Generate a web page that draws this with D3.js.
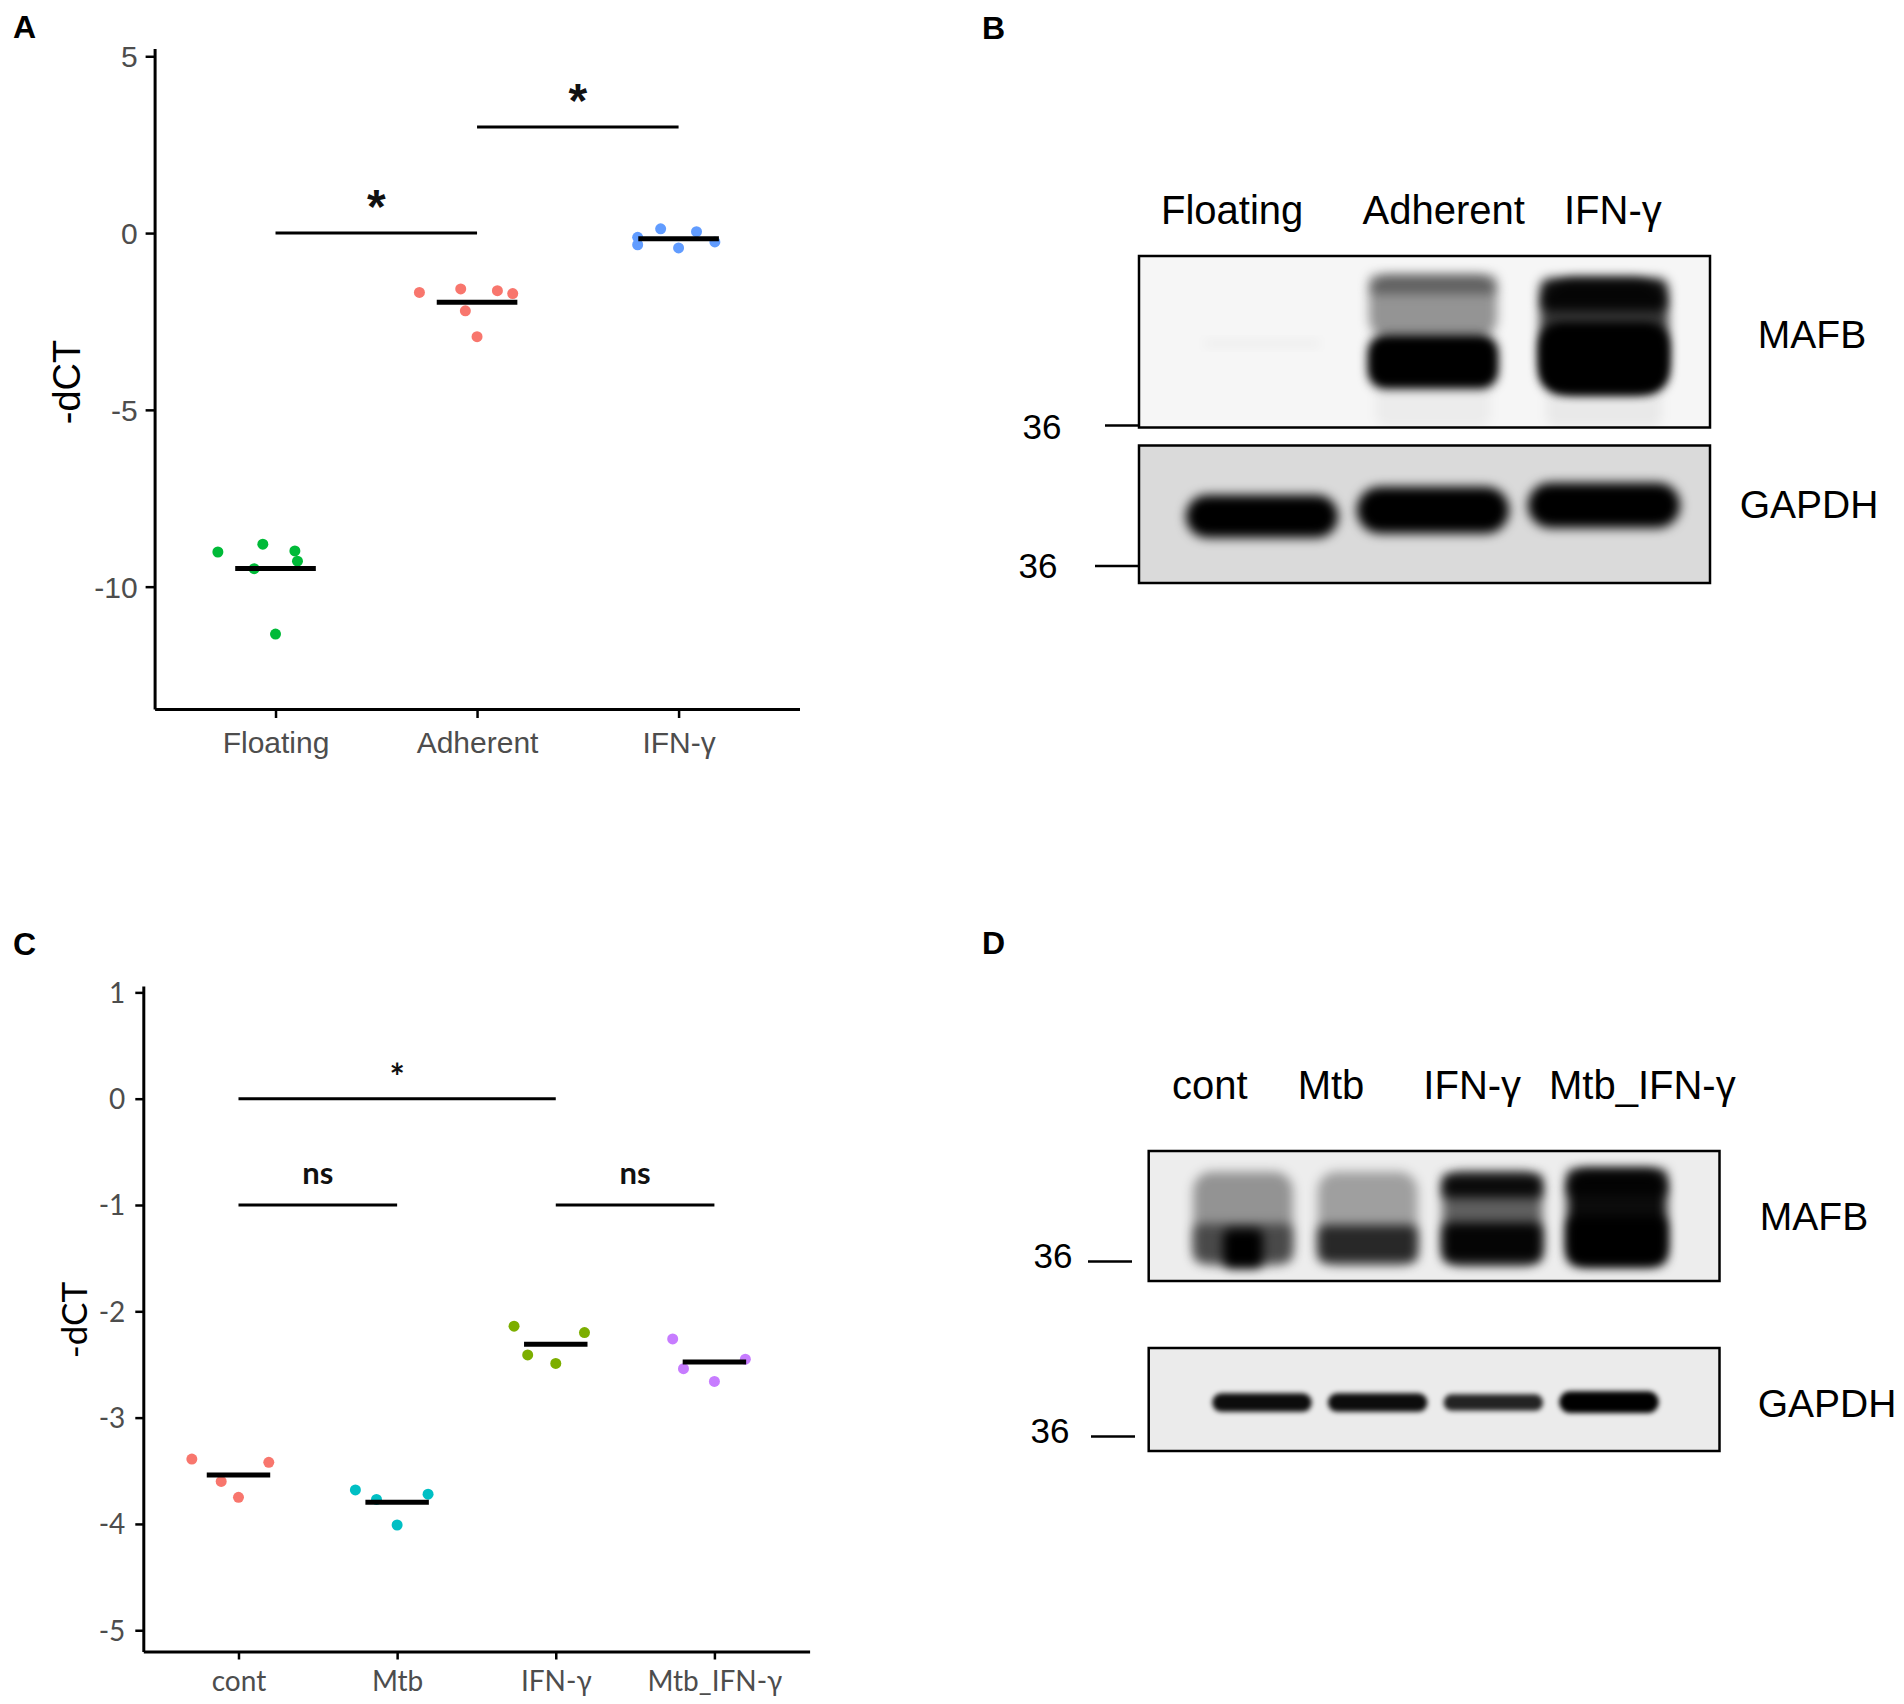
<!DOCTYPE html>
<html>
<head>
<meta charset="utf-8">
<script src="https://cdn.jsdelivr.net/npm/d3@7"></script>
<style>
  body { margin: 0; background: #fff; }
  svg { display: block; }
</style>
</head>
<body>
<div id="fig"></div>
<script>
// Panel A data
var catsA = ["Floating", "Adherent", "IFN-γ"];
var floatingA = [-9.02, -8.80, -8.99, -9.28, -9.49, -11.34];
var adherentA = [-1.68, -1.58, -1.63, -1.71, -2.20, -2.93];
var ifngA = [-0.12, -0.33, 0.12, -0.42, 0.04, -0.25];
var jitterA = [
    [-0.286, -0.063, 0.096, 0.109, -0.106, 0],
    [-0.286, -0.081, 0.101, 0.177, -0.058, 0],
    [-0.203, -0.203, -0.089, 0, 0.089, 0.18]
];
var colorsA = ["#00BA38", "#F8766D", "#619CFF"];
var ticksA = [5, 0, -5, -10];
var sigA = [
    {from: "Floating", to: "Adherent", y: 0, label: "*"},
    {from: "Adherent", to: "IFN-γ", y: 3, label: "*"}
];

// Panel C data
var catsC = ["cont", "Mtb", "IFN-γ", "Mtb_IFN-γ"];
var contC = [-3.39, -3.60, -3.75, -3.42];
var mtbC = [-3.68, -3.77, -3.72, -4.01];
var ifngC = [-2.14, -2.41, -2.49, -2.20];
var mtbIfngC = [-2.26, -2.54, -2.66, -2.45];
var jitterC = [
    [-0.294, -0.109, 0, 0.191],
    [-0.263, -0.130, 0.195, 0],
    [-0.263, -0.177, 0, 0.181],
    [-0.263, -0.195, 0, 0.195]
];
var colorsC = ["#F8766D", "#00BFC4", "#7CAE00", "#C77CFF"];
var ticksC = [1, 0, -1, -2, -3, -4, -5];
var sigC = [
    {from: "cont", to: "IFN-γ", y: 0, label: "*"},
    {from: "cont", to: "Mtb", y: -1, label: "ns"},
    {from: "IFN-γ", to: "Mtb_IFN-γ", y: -1, label: "ns"}
];

// Blot B: band top/bottom as relative migration in the strip, level = darkness
var lanesB = ["Floating", "Adherent", "IFN-γ"];
var mafbB = [
    {lane: "Floating", top: 0.49, bottom: 0.53, level: 0.04, span: 0.9},
    {lane: "Adherent", top: 0.11, bottom: 0.48, level: 0.40, span: 1},
    {lane: "Adherent", top: 0.11, bottom: 0.22, level: 0.35, span: 1},
    {lane: "Adherent", top: 0.46, bottom: 0.77, level: 1, span: 1},
    {lane: "Adherent", top: 0.50, bottom: 0.74, level: 1, span: 0.95},
    {lane: "IFN-γ", top: 0.13, bottom: 0.80, level: 0.78, span: 1},
    {lane: "IFN-γ", top: 0.13, bottom: 0.32, level: 0.9, span: 1},
    {lane: "IFN-γ", top: 0.39, bottom: 0.80, level: 1, span: 1},
    {lane: "IFN-γ", top: 0.42, bottom: 0.78, level: 1, span: 0.95},
    {lane: "Adherent", top: 0.75, bottom: 1.0, level: 0.04, span: 0.9},
    {lane: "IFN-γ", top: 0.78, bottom: 1.0, level: 0.05, span: 0.9}
];
var gapdhB = [
    {lane: "Floating", top: 0.36, bottom: 0.67, level: 1, span: 1},
    {lane: "Adherent", top: 0.30, bottom: 0.64, level: 1, span: 1},
    {lane: "IFN-γ", top: 0.27, bottom: 0.60, level: 1, span: 1}
];

// Blot D
var lanesD = ["cont", "Mtb", "IFN-γ", "Mtb_IFN-γ"];
var mafbD = [
    {lane: "cont", top: 0.16, bottom: 0.88, level: 0.38, span: 1},
    {lane: "cont", top: 0.56, bottom: 0.86, level: 0.5, span: 1},
    {lane: "cont", top: 0.60, bottom: 0.90, level: 1, span: 0.4},
    {lane: "Mtb", top: 0.16, bottom: 0.88, level: 0.33, span: 1},
    {lane: "Mtb", top: 0.57, bottom: 0.86, level: 0.75, span: 1},
    {lane: "IFN-γ", top: 0.16, bottom: 0.88, level: 0.6, span: 1},
    {lane: "IFN-γ", top: 0.18, bottom: 0.36, level: 0.9, span: 1},
    {lane: "IFN-γ", top: 0.55, bottom: 0.86, level: 0.95, span: 1},
    {lane: "Mtb_IFN-γ", top: 0.14, bottom: 0.88, level: 0.95, span: 1},
    {lane: "Mtb_IFN-γ", top: 0.50, bottom: 0.88, level: 1, span: 1},
    {lane: "Mtb_IFN-γ", top: 0.14, bottom: 0.34, level: 0.8, span: 1}
];
var gapdhD = [
    {lane: "cont", top: 0.44, bottom: 0.62, level: 0.95, span: 1},
    {lane: "Mtb", top: 0.44, bottom: 0.62, level: 0.95, span: 1},
    {lane: "IFN-γ", top: 0.45, bottom: 0.61, level: 0.85, span: 1},
    {lane: "Mtb_IFN-γ", top: 0.42, bottom: 0.63, level: 1, span: 1}
];

var svg = d3.select("#fig").append("svg")
    .attr("width", 1904)
    .attr("height", 1704);

var defs = svg.append("defs");
[["blur5", 5.5], ["blur4", 4], ["blur2", 2.6]].forEach(function(f) {
    defs.append("filter")
        .attr("id", f[0])
        .attr("x", "-30%").attr("y", "-60%")
        .attr("width", "160%").attr("height", "220%")
        .append("feGaussianBlur")
        .attr("stdDeviation", f[1]);
});

// panel letters
var letters = [["A", 13, 38], ["B", 982, 39], ["C", 13, 955], ["D", 982, 954]];
svg.selectAll("text.letter")
    .data(letters)
    .enter()
    .append("text")
    .attr("class", "letter")
    .attr("x", function(d) { return d[1]; })
    .attr("y", function(d) { return d[2]; })
    .attr("font-family", "Liberation Sans, Arial, sans-serif")
    .attr("font-weight", "bold")
    .attr("font-size", 32)
    .text(function(d) { return d[0]; });

// dot plot with mean bars
function dotPanel(opt) {
    var g = svg.append("g");
    var x = d3.scalePoint().domain(opt.cats).range(opt.xRange).padding(0.6);
    var y = d3.scaleLinear().domain(opt.yDomain).range(opt.yRange);
    var step = x.step();

    var yAxis = g.append("g")
        .attr("transform", "translate(" + opt.xRange[0] + ",0)")
        .call(d3.axisLeft(y).tickValues(opt.ticks).tickSize(opt.tickLen).tickSizeOuter(0));
    var xAxis = g.append("g")
        .attr("transform", "translate(0," + opt.yRange[0] + ")")
        .call(d3.axisBottom(x).tickSize(opt.tickLen).tickSizeOuter(0));

    [yAxis, xAxis].forEach(function(a) {
        a.select(".domain").attr("stroke", "#000").attr("stroke-width", 3);
        a.selectAll(".tick line").attr("stroke", "#000").attr("stroke-width", 2.5);
        a.selectAll(".tick text")
            .attr("font-family", opt.font)
            .attr("font-size", opt.tickFont)
            .attr("fill", "#4d4d4d");
    });
    // plain hyphen for negatives, as in the original
    yAxis.selectAll(".tick text")
        .attr("x", -opt.yLabGap).attr("dy", "0.35em")
        .text(function(d) { return String(d); });
    xAxis.selectAll(".tick text").attr("y", opt.xLabGap).attr("dy", 0);

    g.append("text")
        .attr("transform", "translate(" + opt.titleX + "," + opt.titleY + ") rotate(-90)")
        .attr("text-anchor", "middle")
        .attr("dominant-baseline", "central")
        .attr("font-family", opt.font)
        .attr("font-size", opt.titleFont)
        .attr("fill", "#000")
        .text("-dCT");

    opt.series.forEach(function(vals, i) {
        var cat = opt.cats[i];
        g.selectAll(null)
            .data(vals)
            .enter()
            .append("circle")
            .attr("cx", function(d, j) { return x(cat) + opt.jitter[i][j] * step; })
            .attr("cy", function(d) { return y(d); })
            .attr("r", 5.5)
            .attr("fill", opt.colors[i]);
        var m = d3.mean(vals);
        g.append("line")
            .attr("x1", x(cat) - 0.2 * step)
            .attr("x2", x(cat) + 0.2 * step)
            .attr("y1", y(m))
            .attr("y2", y(m))
            .attr("stroke", "#000")
            .attr("stroke-width", 5);
    });

    var sig = g.selectAll("g.sig")
        .data(opt.sig)
        .enter()
        .append("g")
        .attr("class", "sig");
    sig.append("line")
        .attr("x1", function(d) { return x(d.from); })
        .attr("x2", function(d) { return x(d.to); })
        .attr("y1", function(d) { return y(d.y); })
        .attr("y2", function(d) { return y(d.y); })
        .attr("stroke", "#000")
        .attr("stroke-width", 3);
    sig.append("text")
        .attr("x", function(d) { return (x(d.from) + x(d.to)) / 2; })
        .attr("y", function(d) { return y(d.y) - (d.label === "*" ? opt.starGap : opt.nsGap); })
        .attr("text-anchor", "middle")
        .attr("font-family", opt.font)
        .attr("font-weight", opt.sigWeight)
        .attr("font-size", function(d) { return d.label === "*" ? opt.starFont : opt.nsFont; })
        .attr("fill", "#111")
        .text(function(d) { return d.label; });
}

dotPanel({
    cats: catsA,
    series: [floatingA, adherentA, ifngA],
    jitter: jitterA,
    colors: colorsA,
    ticks: ticksA,
    sig: sigA,
    xRange: [154.6, 799.5],
    yDomain: [-13.46, 5.22],
    yRange: [709, 48.5],
    tickLen: 9,
    font: "Liberation Sans, Arial, sans-serif",
    tickFont: 30,
    yLabGap: 17,
    xLabGap: 44,
    titleX: 67, titleY: 382, titleFont: 38,
    starGap: 10, starFont: 48, nsGap: 20, nsFont: 30,
    sigWeight: "bold"
});

dotPanel({
    cats: catsC,
    series: [contC, mtbC, ifngC, mtbIfngC],
    jitter: jitterC,
    colors: colorsC,
    ticks: ticksC,
    sig: sigC,
    xRange: [143.3, 809.6],
    yDomain: [-5.2, 1.06],
    yRange: [1651.5, 986],
    tickLen: 8,
    font: "Lato, Carlito, sans-serif",
    tickFont: 28,
    yLabGap: 18,
    xLabGap: 39,
    titleX: 73, titleY: 1320, titleFont: 35,
    starGap: 9, starFont: 36, nsGap: 21, nsFont: 31,
    sigWeight: "bold"
});

// western blot strips
function blotStrip(opt) {
    var g = svg.append("g");
    var clipId = "clip" + opt.id;
    defs.append("clipPath").attr("id", clipId)
        .append("rect")
        .attr("x", opt.x0).attr("y", opt.y0)
        .attr("width", opt.x1 - opt.x0).attr("height", opt.y1 - opt.y0);

    var lane = d3.scalePoint().domain(opt.lanes).range(opt.laneRange);
    var mig = d3.scaleLinear().domain([0, 1]).range([opt.y0, opt.y1]);
    var bw = lane.step() * opt.widthFrac;

    g.append("rect")
        .attr("x", opt.x0).attr("y", opt.y0)
        .attr("width", opt.x1 - opt.x0).attr("height", opt.y1 - opt.y0)
        .attr("fill", opt.bg);

    var inner = g.append("g").attr("clip-path", "url(#" + clipId + ")");
    inner.selectAll("rect.band")
        .data(opt.bands)
        .enter()
        .append("rect")
        .attr("class", "band")
        .attr("x", function(d) { return lane(d.lane) - bw * d.span / 2; })
        .attr("width", function(d) { return bw * d.span; })
        .attr("y", function(d) { return mig(d.top); })
        .attr("height", function(d) { return mig(d.bottom) - mig(d.top); })
        .attr("rx", function(d) { return Math.min(bw * d.span, mig(d.bottom) - mig(d.top)) * opt.round; })
        .attr("fill", "#000")
        .attr("fill-opacity", function(d) { return d.level; })
        .attr("filter", "url(#" + opt.blur + ")");

    g.append("rect")
        .attr("x", opt.x0).attr("y", opt.y0)
        .attr("width", opt.x1 - opt.x0).attr("height", opt.y1 - opt.y0)
        .attr("fill", "none")
        .attr("stroke", "#000")
        .attr("stroke-width", 2.5);

    // protein name
    g.append("text")
        .attr("x", opt.nameX).attr("y", opt.nameY)
        .attr("text-anchor", "middle")
        .attr("font-family", "Liberation Sans, Arial, sans-serif")
        .attr("font-size", 39)
        .text(opt.name);

    // size marker
    g.append("line")
        .attr("x1", opt.markX[0]).attr("x2", opt.markX[1])
        .attr("y1", opt.markY).attr("y2", opt.markY)
        .attr("stroke", "#000").attr("stroke-width", 2.5);
    g.append("text")
        .attr("x", opt.markTextX).attr("y", opt.markTextY)
        .attr("text-anchor", "middle")
        .attr("font-family", "Liberation Sans, Arial, sans-serif")
        .attr("font-size", 35)
        .text("36");
}

function laneLabels(lanes, range, y) {
    var s = d3.scalePoint().domain(lanes).range(range);
    svg.append("g").selectAll("text")
        .data(lanes)
        .enter()
        .append("text")
        .attr("x", function(d) { return s(d); })
        .attr("y", y)
        .attr("text-anchor", "start")
        .attr("font-family", "Liberation Sans, Arial, sans-serif")
        .attr("font-size", 40)
        .text(function(d) { return d; });
}

// B
laneLabels(lanesB, [1161, 1564], 224);
blotStrip({
    id: "bm", lanes: lanesB, bands: mafbB, laneRange: [1262, 1604], widthFrac: 0.75,
    x0: 1139, x1: 1710, y0: 256, y1: 427.5, bg: "#f6f6f6", blur: "blur5", round: 0.3,
    name: "MAFB", nameX: 1812, nameY: 348,
    markX: [1105, 1139], markY: 425.5, markTextX: 1042, markTextY: 439
});
blotStrip({
    id: "bg", lanes: lanesB, bands: gapdhB, laneRange: [1262, 1604], widthFrac: 0.89,
    x0: 1139, x1: 1710, y0: 445.5, y1: 583, bg: "#dadada", blur: "blur5", round: 0.5,
    name: "GAPDH", nameX: 1809, nameY: 518,
    markX: [1095, 1139], markY: 566, markTextX: 1038, markTextY: 578
});

// D
laneLabels(lanesD, [1172, 1549], 1099);
blotStrip({
    id: "dm", lanes: lanesD, bands: mafbD, laneRange: [1243, 1617], widthFrac: 0.8,
    x0: 1148.7, x1: 1719.5, y0: 1151, y1: 1281, bg: "#ededed", blur: "blur5", round: 0.2,
    name: "MAFB", nameX: 1814, nameY: 1230,
    markX: [1088, 1132], markY: 1261.5, markTextX: 1053, markTextY: 1268
});
blotStrip({
    id: "dg", lanes: lanesD, bands: gapdhD, laneRange: [1262, 1609], widthFrac: 0.86,
    x0: 1148.7, x1: 1719.5, y0: 1348, y1: 1451, bg: "#ebebeb", blur: "blur2", round: 0.5,
    name: "GAPDH", nameX: 1827, nameY: 1417,
    markX: [1091, 1135], markY: 1436.5, markTextX: 1050, markTextY: 1443
});
</script>
</body>
</html>
